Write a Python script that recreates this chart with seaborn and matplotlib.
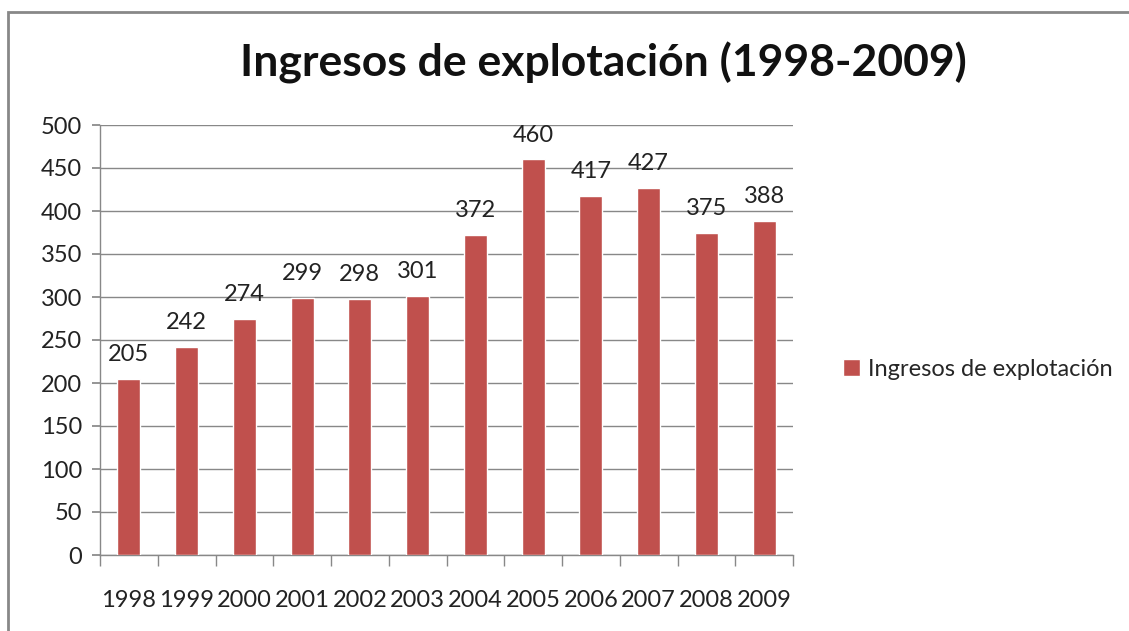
import pandas as pd
import matplotlib.pyplot as plt
import seaborn as sns
from matplotlib.patches import Rectangle, Patch

# data
years = ["1998", "1999", "2000", "2001", "2002", "2003",
         "2004", "2005", "2006", "2007", "2008", "2009"]
ingresos = [205, 242, 274, 299, 298, 301, 372, 460, 417, 427, 375, 388]
series_name = "Ingresos de explotación"

df = pd.DataFrame({"year": years, "value": ingresos})

sns.set_theme(style="white")
plt.rcParams['font.family'] = ['Lato', 'DejaVu Sans']

fig = plt.figure(figsize=(11.29, 6.31), dpi=100)
ax = fig.add_axes([100 / 1129, 76 / 631, 693 / 1129, 430 / 631])

sns.barplot(data=df, x="year", y="value", color="#C0504D", saturation=1,
            width=0.40, ax=ax, zorder=3)

ax.set_ylim(0, 500)
ax.set_yticks(range(0, 501, 50))
ax.set_xlim(-0.5, len(years) - 0.5)
ax.grid(axis="y", color="#888888", linewidth=1, zorder=0)
ax.set_xlabel("")
ax.set_ylabel("")

for s in ["top", "right"]:
    ax.spines[s].set_visible(False)
for s in ["left", "bottom"]:
    ax.spines[s].set_color("#888888")
    ax.spines[s].set_linewidth(1)

# value labels
for i, v in enumerate(ingresos):
    ax.annotate(str(v), (i, v), xytext=(0, 10), textcoords="offset points",
                ha="center", va="bottom", fontsize=17, color="#222222")

ax.tick_params(axis="y", left=True, length=6, color="#888888", labelsize=17,
               labelcolor="#222222", pad=7)
ax.tick_params(axis="x", which="major", bottom=False, length=0, labelsize=17,
               labelcolor="#222222", pad=25)
ax.set_xticks([i + 0.5 for i in range(-1, len(years))], minor=True)
ax.tick_params(axis="x", which="minor", bottom=True, length=8, color="#888888")

fig.text(603 / 1129, 1 - 63 / 631, "Ingresos de explotación (1998-2009)",
         fontsize=32, fontweight="bold", ha="center", va="center", color="#111111")

ax.legend(handles=[Patch(facecolor="#C0504D", label=series_name)],
          loc="center left", bbox_to_anchor=(822 / 1129, 262 / 631),
          bbox_transform=fig.transFigure, frameon=False, fontsize=17,
          handlelength=0.7, handleheight=0.7, handletextpad=0.35)

# outer chart border (top and left visible in the reference)
fig.patches.append(Rectangle((8 / 1129, -0.05), 1.2, (631 - 12) / 631 + 0.05,
                             transform=fig.transFigure, fill=False,
                             edgecolor="#888888", linewidth=2))

fig.savefig("out.png", dpi=100)
